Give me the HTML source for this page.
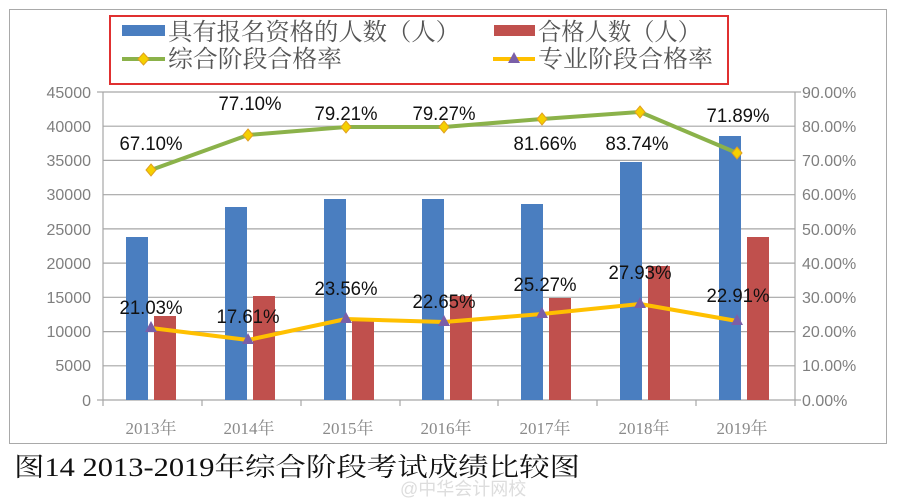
<!DOCTYPE html>
<html><head><meta charset="utf-8"><style>
body{margin:0;background:#fff;}
svg{display:block}
</style></head><body>
<svg width="900" height="502" viewBox="0 0 900 502" xmlns="http://www.w3.org/2000/svg">
<rect x="0" y="0" width="900" height="502" fill="#fff"/>
<rect x="9.5" y="9.5" width="877" height="434" fill="none" stroke="#a9a9a9" stroke-width="1"/>
<rect x="110" y="16" width="618" height="68" fill="none" stroke="#e03030" stroke-width="2"/>
<!-- legend -->
<rect x="122" y="25" width="43" height="11" fill="#4a7ec0"/>
<text x="168" y="40" font-family="'Noto Serif CJK SC',serif" font-size="24" fill="#555" textLength="292" lengthAdjust="spacingAndGlyphs">具有报名资格的人数（人）</text>
<rect x="494" y="25" width="41" height="11" fill="#c0504d"/>
<text x="538" y="40" font-family="'Noto Serif CJK SC',serif" font-size="24" fill="#555" textLength="163" lengthAdjust="spacingAndGlyphs">合格人数（人）</text>
<line x1="122" y1="59" x2="165" y2="59" stroke="#8bb24a" stroke-width="4"/>
<polygon points="143.5,53 149,59 143.5,65 138,59" fill="#f5d000" stroke="#e0a020" stroke-width="1"/>
<text x="168" y="67" font-family="'Noto Serif CJK SC',serif" font-size="24" fill="#555" textLength="174" lengthAdjust="spacingAndGlyphs">综合阶段合格率</text>
<line x1="493" y1="59" x2="535" y2="59" stroke="#ffc000" stroke-width="4"/>
<polygon points="514,52 520,63 508,63" fill="#7a5fa8"/>
<text x="538" y="67" font-family="'Noto Serif CJK SC',serif" font-size="24" fill="#555" textLength="175" lengthAdjust="spacingAndGlyphs">专业阶段合格率</text>
<!-- grid -->
<g stroke="#a6a6a6" stroke-width="1.2">
<line x1="103" y1="92" x2="795" y2="92"/>
<line x1="103" y1="126.2" x2="795" y2="126.2"/>
<line x1="103" y1="160.4" x2="795" y2="160.4"/>
<line x1="103" y1="194.7" x2="795" y2="194.7"/>
<line x1="103" y1="228.9" x2="795" y2="228.9"/>
<line x1="103" y1="263.1" x2="795" y2="263.1"/>
<line x1="103" y1="297.3" x2="795" y2="297.3"/>
<line x1="103" y1="331.6" x2="795" y2="331.6"/>
<line x1="103" y1="365.8" x2="795" y2="365.8"/>
<line x1="103" y1="400" x2="795" y2="400"/>
<line x1="103" y1="92" x2="103" y2="400"/>
<line x1="795" y1="92" x2="795" y2="400"/>
<line x1="103" y1="400" x2="103" y2="406"/><line x1="202" y1="400" x2="202" y2="406"/><line x1="301" y1="400" x2="301" y2="406"/><line x1="400" y1="400" x2="400" y2="406"/><line x1="498" y1="400" x2="498" y2="406"/><line x1="597" y1="400" x2="597" y2="406"/><line x1="696" y1="400" x2="696" y2="406"/><line x1="795" y1="400" x2="795" y2="406"/>
<line x1="97" y1="92" x2="103" y2="92"/><line x1="97" y1="400" x2="103" y2="400"/>
<line x1="795" y1="92" x2="801" y2="92"/><line x1="795" y1="400" x2="801" y2="400"/>
</g>
<!-- axis labels -->
<g font-family="'Liberation Sans',sans-serif" font-size="16" fill="#7f7f7f" text-anchor="end">
<text x="91" y="98">45000</text><text x="91" y="132">40000</text><text x="91" y="166">35000</text><text x="91" y="200">30000</text><text x="91" y="235">25000</text><text x="91" y="269">20000</text><text x="91" y="303">15000</text><text x="91" y="337">10000</text><text x="91" y="371">5000</text><text x="91" y="406">0</text>
</g>
<g font-family="'Liberation Sans',sans-serif" font-size="16" fill="#7f7f7f">
<text x="802" y="98">90.00%</text><text x="802" y="132">80.00%</text><text x="802" y="166">70.00%</text><text x="802" y="200">60.00%</text><text x="802" y="235">50.00%</text><text x="802" y="269">40.00%</text><text x="802" y="303">30.00%</text><text x="802" y="337">20.00%</text><text x="802" y="371">10.00%</text><text x="802" y="406">0.00%</text>
</g>
<g font-family="'Liberation Serif','Noto Serif CJK SC',serif" font-size="17" fill="#8a8a8a" text-anchor="middle">
<text x="151" y="434">2013年</text><text x="249" y="434">2014年</text><text x="348" y="434">2015年</text><text x="446" y="434">2016年</text><text x="545" y="434">2017年</text><text x="644" y="434">2018年</text><text x="742" y="434">2019年</text>
</g>
<!-- bars -->
<g fill="#4a7ec0">
<rect x="126" y="237" width="22" height="163"/>
<rect x="225" y="207" width="22" height="193"/>
<rect x="324" y="199" width="22" height="201"/>
<rect x="422" y="199" width="22" height="201"/>
<rect x="521" y="204" width="22" height="196"/>
<rect x="620" y="162" width="22" height="238"/>
<rect x="719" y="136" width="22" height="264"/>
</g>
<g fill="#c0504d">
<rect x="154" y="316" width="22" height="84"/>
<rect x="253" y="296" width="22" height="104"/>
<rect x="352" y="320" width="22" height="80"/>
<rect x="450" y="296" width="22" height="104"/>
<rect x="549" y="298" width="22" height="102"/>
<rect x="648" y="266" width="22" height="134"/>
<rect x="747" y="237" width="22" height="163"/>
</g>
<!-- green line -->
<polyline points="151,170 248,135 346,127 444,127 542,119 640,112 737,153" fill="none" stroke="#8bb24a" stroke-width="4" stroke-linejoin="round"/>
<g fill="#f5d000" stroke="#e0a020" stroke-width="1">
<polygon points="151,164 156,170 151,176 146,170"/>
<polygon points="248,129 253,135 248,141 243,135"/>
<polygon points="346,121 351,127 346,133 341,127"/>
<polygon points="444,121 449,127 444,133 439,127"/>
<polygon points="542,113 547,119 542,125 537,119"/>
<polygon points="640,106 645,112 640,118 635,112"/>
<polygon points="737,147 742,153 737,159 732,153"/>
</g>
<!-- yellow line -->
<polyline points="151,328 248,340 346,319 444,322 542,314 640,304 737,321" fill="none" stroke="#ffc000" stroke-width="4" stroke-linejoin="round"/>
<g fill="#7a5fa8">
<polygon points="151,321 157,332 145,332"/>
<polygon points="248,333 254,344 242,344"/>
<polygon points="346,312 352,323 340,323"/>
<polygon points="444,315 450,326 438,326"/>
<polygon points="542,307 548,318 536,318"/>
<polygon points="640,297 646,308 634,308"/>
<polygon points="737,314 743,325 731,325"/>
</g>
<!-- data labels -->
<g font-family="'Liberation Sans',sans-serif" font-size="19" fill="#111" text-anchor="middle">
<text x="151" y="150" textLength="63" lengthAdjust="spacingAndGlyphs">67.10%</text>
<text x="250" y="110" textLength="63" lengthAdjust="spacingAndGlyphs">77.10%</text>
<text x="346" y="120" textLength="63" lengthAdjust="spacingAndGlyphs">79.21%</text>
<text x="444" y="120" textLength="63" lengthAdjust="spacingAndGlyphs">79.27%</text>
<text x="545" y="150" textLength="63" lengthAdjust="spacingAndGlyphs">81.66%</text>
<text x="637" y="150" textLength="63" lengthAdjust="spacingAndGlyphs">83.74%</text>
<text x="738" y="122" textLength="63" lengthAdjust="spacingAndGlyphs">71.89%</text>
<text x="151" y="314" textLength="63" lengthAdjust="spacingAndGlyphs">21.03%</text>
<text x="248" y="323" textLength="63" lengthAdjust="spacingAndGlyphs">17.61%</text>
<text x="346" y="295" textLength="63" lengthAdjust="spacingAndGlyphs">23.56%</text>
<text x="444" y="308" textLength="63" lengthAdjust="spacingAndGlyphs">22.65%</text>
<text x="545" y="291" textLength="63" lengthAdjust="spacingAndGlyphs">25.27%</text>
<text x="640" y="279" textLength="63" lengthAdjust="spacingAndGlyphs">27.93%</text>
<text x="738" y="302" textLength="63" lengthAdjust="spacingAndGlyphs">22.91%</text>
</g>
<!-- title -->
<text x="14" y="476" font-family="'Liberation Serif','Noto Serif CJK SC',serif" font-size="26" fill="#111" textLength="566" lengthAdjust="spacingAndGlyphs">图14  2013-2019年综合阶段考试成绩比较图</text>
<text x="400" y="495" font-family="'Liberation Sans','Noto Sans CJK SC',sans-serif" font-size="18" fill="#ddd">@中华会计网校</text>
</svg>
</body></html>
